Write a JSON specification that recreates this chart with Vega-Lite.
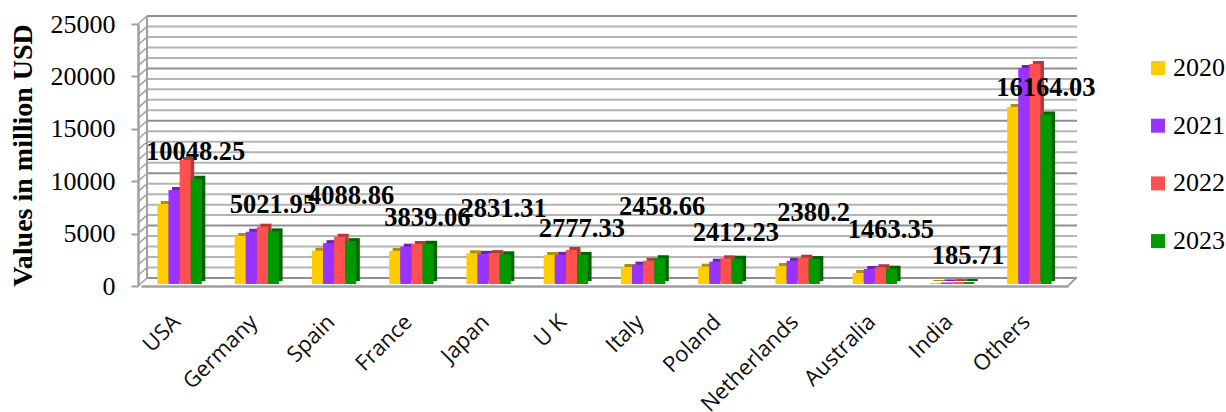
{"$schema":"https://vega.github.io/schema/vega-lite/v6.json","width":930,"height":262,"autosize":{"type":"none"},"padding":{"left":138,"top":24,"right":158,"bottom":126},"background":"white",
"datasets":{
"bars":[
{"c":"USA","yr":"2020","v":7630},{"c":"USA","yr":"2021","v":8970},{"c":"USA","yr":"2022","v":11830},{"c":"USA","yr":"2023","v":10048.25},
{"c":"Germany","yr":"2020","v":4580},{"c":"Germany","yr":"2021","v":4990},{"c":"Germany","yr":"2022","v":5470},{"c":"Germany","yr":"2023","v":5021.95},
{"c":"Spain","yr":"2020","v":3180},{"c":"Spain","yr":"2021","v":3900},{"c":"Spain","yr":"2022","v":4510},{"c":"Spain","yr":"2023","v":4088.86},
{"c":"France","yr":"2020","v":3150},{"c":"France","yr":"2021","v":3560},{"c":"France","yr":"2022","v":3820},{"c":"France","yr":"2023","v":3839.06},
{"c":"Japan","yr":"2020","v":2930},{"c":"Japan","yr":"2021","v":2880},{"c":"Japan","yr":"2022","v":2950},{"c":"Japan","yr":"2023","v":2831.31},
{"c":"U K","yr":"2020","v":2770},{"c":"U K","yr":"2021","v":2780},{"c":"U K","yr":"2022","v":3245},{"c":"U K","yr":"2023","v":2777.33},
{"c":"Italy","yr":"2020","v":1620},{"c":"Italy","yr":"2021","v":1850},{"c":"Italy","yr":"2022","v":2220},{"c":"Italy","yr":"2023","v":2458.66},
{"c":"Poland","yr":"2020","v":1650},{"c":"Poland","yr":"2021","v":2130},{"c":"Poland","yr":"2022","v":2450},{"c":"Poland","yr":"2023","v":2412.23},
{"c":"Netherlands","yr":"2020","v":1720},{"c":"Netherlands","yr":"2021","v":2220},{"c":"Netherlands","yr":"2022","v":2510},{"c":"Netherlands","yr":"2023","v":2380.2},
{"c":"Australia","yr":"2020","v":1050},{"c":"Australia","yr":"2021","v":1430},{"c":"Australia","yr":"2022","v":1600},{"c":"Australia","yr":"2023","v":1463.35},
{"c":"India","yr":"2020","v":100},{"c":"India","yr":"2021","v":150},{"c":"India","yr":"2022","v":180},{"c":"India","yr":"2023","v":185.71},
{"c":"Others","yr":"2020","v":16900},{"c":"Others","yr":"2021","v":20600},{"c":"Others","yr":"2022","v":21000},{"c":"Others","yr":"2023","v":16164.03}
],
"ticks":[{"v":0,"k":"major"},{"v":1000,"k":"minor"},{"v":2000,"k":"minor"},{"v":3000,"k":"minor"},{"v":4000,"k":"minor"},{"v":5000,"k":"major"},{"v":6000,"k":"minor"},{"v":7000,"k":"minor"},{"v":8000,"k":"minor"},{"v":9000,"k":"minor"},{"v":10000,"k":"major"},{"v":11000,"k":"minor"},{"v":12000,"k":"minor"},{"v":13000,"k":"minor"},{"v":14000,"k":"minor"},{"v":15000,"k":"major"},{"v":16000,"k":"minor"},{"v":17000,"k":"minor"},{"v":18000,"k":"minor"},{"v":19000,"k":"minor"},{"v":20000,"k":"major"},{"v":21000,"k":"minor"},{"v":22000,"k":"minor"},{"v":23000,"k":"minor"},{"v":24000,"k":"minor"},{"v":25000,"k":"major"}]
},
"config":{"view":{"stroke":null},"font":"Liberation Serif"},
"resolve":{"scale":{"color":"independent","xOffset":"independent"}},
"encoding":{
"x":{"field":"c","type":"nominal","sort":["USA","Germany","Spain","France","Japan","U K","Italy","Poland","Netherlands","Australia","India","Others"],"scale":{"range":[3,930],"paddingInner":0.425,"paddingOuter":0.2125},
   "axis":{"title":null,"labelAngle":-45,"labelAlign":"right","labelBaseline":"middle","labelFont":"Open Sans","labelFontSize":22,"labelColor":"#111","labelPadding":32,"labelOffset":-3,"labelOverlap":false,"labelLimit":300,"labelBound":false,"labelFlush":false,"ticks":false,"domainColor":"#a0a0a0","domainWidth":2.5}},
"y":{"field":"v","type":"quantitative","scale":{"domain":[0,25000],"nice":false},"axis":{"title":"Values in million USD","titleFont":"Liberation Serif","titleFontSize":28,"titleFontWeight":"bold","titleColor":"black","titleX":-101,"titleY":131,"values":[0,5000,10000,15000,20000,25000],"format":"d","grid":false,"labelFont":"Liberation Serif","labelFontSize":26,"labelColor":"black","labelPadding":16,"tickSize":7,"tickColor":"#a0a0a0","tickWidth":2,"domainColor":"#a0a0a0","domainWidth":2.5}}
},
"layer":[
{"data":{"name":"ticks"},"mark":{"type":"rule","xOffset":9,"x2Offset":9,"yOffset":-8,"strokeWidth":2},
 "encoding":{"x":{"value":0},"x2":{"value":930},
 "stroke":{"field":"k","type":"nominal","scale":{"domain":["major","minor"],"range":["#8f8f8f","#b4b4b4"]},"legend":null}}},
{"data":{"name":"ticks"},"mark":{"type":"rule","stroke":"#a0a0a0","strokeWidth":1.5,"x2Offset":9,"y2Offset":-8},
 "encoding":{"y2":{"field":"v"},"x":{"value":0},"x2":{"value":0}}},
{"data":{"name":"ticks"},"transform":[{"filter":"datum.v===0"}],"mark":{"type":"rule","stroke":"#a0a0a0","strokeWidth":2,"x2Offset":8,"y2Offset":-8},
 "encoding":{"y2":{"field":"v"},"x":{"value":930},"x2":{"value":930}}},
{"data":{"name":"ticks"},"transform":[{"filter":"datum.v===0"}],"mark":{"type":"rule","stroke":"#a0a0a0","strokeWidth":2,"xOffset":9,"yOffset":-8,"y2Offset":-8},
 "encoding":{"y2":{"datum":25000},"x":{"value":0}}},
{"data":{"name":"bars"},"mark":{"type":"bar","yOffset":-5,"y2Offset":-2},
 "encoding":{
  "xOffset":{"field":"yr","type":"nominal","scale":{"range":[3.5,47.9]}},
  "color":{"field":"yr","type":"nominal","scale":{"domain":["2020","2021","2022","2023"],"range":["#b38f00","#6c22b5","#b23a3a","#006400"]},"legend":null}}},
{"data":{"name":"bars"},"mark":{"type":"bar","yOffset":-2,"y2Offset":-2},
 "encoding":{
  "xOffset":{"field":"yr","type":"nominal"},
  "color":{"field":"yr","type":"nominal","scale":{"domain":["2020","2021","2022","2023"],"range":["#ffcc00","#9933ff","#ff5050","#009900"]},
   "legend":{"title":null,"orient":"none","legendX":1007,"legendY":31,"symbolType":"square","symbolSize":196,"symbolOpacity":1,"symbolStrokeWidth":0,"labelFont":"Liberation Serif","labelFontSize":26,"labelColor":"black","labelOffset":2,"rowPadding":31.7}}}},
{"data":{"name":"bars"},"transform":[{"filter":"datum.yr==='2023'&&datum.c==='USA'"}],"mark":{"type":"text","dx":16,"dy":-29,"fontSize":26.5,"fontWeight":"bold","font":"Liberation Serif","color":"black"},"encoding":{"text":{"field":"v","type":"nominal"}}},
{"data":{"name":"bars"},"transform":[{"filter":"datum.yr==='2023'&&datum.c==='Germany'"}],"mark":{"type":"text","dx":16,"dy":-28,"fontSize":26.5,"fontWeight":"bold","font":"Liberation Serif","color":"black"},"encoding":{"text":{"field":"v","type":"nominal"}}},
{"data":{"name":"bars"},"transform":[{"filter":"datum.yr==='2023'&&datum.c==='Spain'"}],"mark":{"type":"text","dx":17,"dy":-47,"fontSize":26.5,"fontWeight":"bold","font":"Liberation Serif","color":"black"},"encoding":{"text":{"field":"v","type":"nominal"}}},
{"data":{"name":"bars"},"transform":[{"filter":"datum.yr==='2023'&&datum.c==='France'"}],"mark":{"type":"text","dx":16,"dy":-28,"fontSize":26.5,"fontWeight":"bold","font":"Liberation Serif","color":"black"},"encoding":{"text":{"field":"v","type":"nominal"}}},
{"data":{"name":"bars"},"transform":[{"filter":"datum.yr==='2023'&&datum.c==='Japan'"}],"mark":{"type":"text","dx":15,"dy":-47,"fontSize":26.5,"fontWeight":"bold","font":"Liberation Serif","color":"black"},"encoding":{"text":{"field":"v","type":"nominal"}}},
{"data":{"name":"bars"},"transform":[{"filter":"datum.yr==='2023'&&datum.c==='U K'"}],"mark":{"type":"text","dx":16,"dy":-28,"fontSize":26.5,"fontWeight":"bold","font":"Liberation Serif","color":"black"},"encoding":{"text":{"field":"v","type":"nominal"}}},
{"data":{"name":"bars"},"transform":[{"filter":"datum.yr==='2023'&&datum.c==='Italy'"}],"mark":{"type":"text","dx":19,"dy":-53,"fontSize":26.5,"fontWeight":"bold","font":"Liberation Serif","color":"black"},"encoding":{"text":{"field":"v","type":"nominal"}}},
{"data":{"name":"bars"},"transform":[{"filter":"datum.yr==='2023'&&datum.c==='Poland'"}],"mark":{"type":"text","dx":15.5,"dy":-28,"fontSize":26.5,"fontWeight":"bold","font":"Liberation Serif","color":"black"},"encoding":{"text":{"field":"v","type":"nominal"}}},
{"data":{"name":"bars"},"transform":[{"filter":"datum.yr==='2023'&&datum.c==='Netherlands'"}],"mark":{"type":"text","dx":16,"dy":-48,"fontSize":26.5,"fontWeight":"bold","font":"Liberation Serif","color":"black"},"encoding":{"text":{"field":"v","type":"nominal"}}},
{"data":{"name":"bars"},"transform":[{"filter":"datum.yr==='2023'&&datum.c==='Australia'"}],"mark":{"type":"text","dx":16,"dy":-41,"fontSize":26.5,"fontWeight":"bold","font":"Liberation Serif","color":"black"},"encoding":{"text":{"field":"v","type":"nominal"}}},
{"data":{"name":"bars"},"transform":[{"filter":"datum.yr==='2023'&&datum.c==='India'"}],"mark":{"type":"text","dx":16,"dy":-28,"fontSize":26.5,"fontWeight":"bold","font":"Liberation Serif","color":"black"},"encoding":{"text":{"field":"v","type":"nominal"}}},
{"data":{"name":"bars"},"transform":[{"filter":"datum.yr==='2023'&&datum.c==='Others'"}],"mark":{"type":"text","dx":16.5,"dy":-29,"fontSize":26.5,"fontWeight":"bold","font":"Liberation Serif","color":"black"},"encoding":{"text":{"field":"v","type":"nominal"}}}
]}
